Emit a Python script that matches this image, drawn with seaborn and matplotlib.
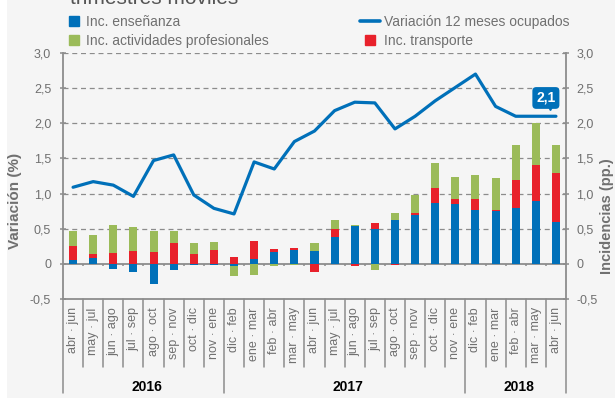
import matplotlib
matplotlib.use('Agg')
import matplotlib.pyplot as plt
import matplotlib.ticker as mticker
from matplotlib.patches import Patch, Rectangle
from matplotlib.lines import Line2D
import numpy as np
import seaborn as sns

# datos (trimestres móviles)
periodos = ['abr · jun', 'may · jul', 'jun · ago', 'jul · sep', 'ago · oct', 'sep · nov', 'oct · dic', 'nov · ene',
            'dic · feb', 'ene · mar', 'feb · abr', 'mar · may', 'abr · jun', 'may · jul', 'jun · ago', 'jul · sep',
            'ago · oct', 'sep · nov', 'oct · dic', 'nov · ene',
            'dic · feb', 'ene · mar', 'feb · abr', 'mar · may', 'abr · jun']
anios = ['2016', '2017', '2018']
n_por_anio = [8, 12, 5]
variacion = [1.09, 1.17, 1.12, 0.96, 1.47, 1.55, 0.98, 0.79, 0.71, 1.45, 1.35, 1.74, 1.89,
             2.18, 2.30, 2.29, 1.92, 2.10, 2.32, 2.51, 2.70, 2.24, 2.10, 2.10, 2.10]
inc_ensenanza = [0.05, 0.085, -0.08, -0.11, -0.28, -0.09, -0.01, -0.02, -0.03, 0.07, 0.17, 0.195, 0.18,
                 0.38, 0.545, 0.50, 0.63, 0.70, 0.87, 0.85, 0.77, 0.75, 0.79, 0.90, 0.59]
inc_transporte = [0.21, 0.06, 0.15, 0.18, 0.17, 0.29, 0.14, 0.20, 0.10, 0.26, 0.04, 0.025, -0.12,
                  0.12, -0.03, 0.08, -0.02, 0.03, 0.21, 0.07, 0.15, 0.01, 0.40, 0.50, 0.70]
inc_actividades = [0.21, 0.27, 0.40, 0.35, 0.30, 0.18, 0.15, 0.11, -0.14, -0.16, -0.03, -0.02, 0.11,
                   0.13, 0.01, -0.09, 0.09, 0.25, 0.35, 0.32, 0.34, 0.46, 0.50, 0.61, 0.40]
ultimo = '2,1'

AZUL = '#0070b9'
ROJO = '#e8212b'
VERDE = '#9bbb59'
GRIS = '#707070'
LINEA = '#8c8c8c'

sns.set_theme(style='white')
plt.rcParams['font.family'] = ['Liberation Sans', 'DejaVu Sans']

fig = plt.figure(figsize=(6.15, 4.0), dpi=100, facecolor='white')
fig.patches.append(Rectangle((7 / 615, 0.005), 1, 1, transform=fig.transFigure,
                             fc='#f5f5f5', ec='none', zorder=-10))
ax = fig.add_axes([63 / 615, 1 - 299 / 400, 503 / 615, 246 / 400])
ax.set_facecolor('none')

x = np.arange(len(periodos))

# barras apiladas, positivos hacia arriba y negativos hacia abajo
base_pos = np.zeros(len(x))
base_neg = np.zeros(len(x))
for vals, color in [(inc_ensenanza, AZUL), (inc_transporte, ROJO), (inc_actividades, VERDE)]:
    vals = np.array(vals)
    bottom = np.where(vals >= 0, base_pos, base_neg)
    ax.bar(x, vals, bottom=bottom, width=0.4, color=color, linewidth=0, zorder=3)
    base_pos = base_pos + np.clip(vals, 0, None)
    base_neg = base_neg + np.clip(vals, None, 0)

sns.lineplot(x=x, y=variacion, color=AZUL, linewidth=2.3, ax=ax, zorder=4, sort=False)

ax.set_xlim(-0.5, len(x) - 0.5)
ax.set_ylim(-0.5, 3.0)

fmt = mticker.FuncFormatter(lambda v, p: '0' if abs(v) < 1e-9 else f'{v:.1f}'.replace('.', ','))
ax.yaxis.set_major_locator(mticker.MultipleLocator(0.5))
ax.yaxis.set_major_formatter(fmt)

for yv in np.arange(0.5, 3.01, 0.5):
    ax.axhline(yv, color=LINEA, lw=0.9, ls=(0, (4, 3)), zorder=1)
ax.axhline(0, color=LINEA, lw=1.3, zorder=2)
ax.vlines(np.arange(0.5, len(x) - 0.5), -0.035, 0, color=LINEA, lw=1.1, zorder=2)

ax.spines['top'].set_visible(False)
for s in ['left', 'right', 'bottom']:
    ax.spines[s].set_color(LINEA)
    ax.spines[s].set_linewidth(1.3)

ax.tick_params(axis='y', left=True, direction='inout', length=5, width=1.1, color=LINEA,
               labelsize=9, labelcolor=GRIS, pad=6)
ax.set_xticks(x)
ax.set_xticklabels(periodos, rotation=90, fontsize=9, color=GRIS)
ax.tick_params(axis='x', length=0, pad=6)

ax2 = ax.twinx()
ax2.set_ylim(ax.get_ylim())
ax2.yaxis.set_major_locator(mticker.MultipleLocator(0.5))
ax2.yaxis.set_major_formatter(fmt)
ax2.tick_params(axis='y', right=True, direction='inout', length=5, width=1.1, color=LINEA,
                labelsize=9, labelcolor=GRIS, pad=5)
for s in ['top', 'left', 'bottom', 'right']:
    ax2.spines[s].set_visible(False)

ax.set_ylabel('Variación (%)', fontsize=11, fontweight='bold', color=GRIS)
ax.yaxis.set_label_coords(-0.082, 0.40)
ax2.set_ylabel('Incidencias (pp.)', fontsize=10.5, fontweight='bold', color=GRIS, rotation=90)
ax2.yaxis.set_label_coords(1.068, 0.335)

# separadores del eje x y años
trans = ax.get_xaxis_transform()
limites = np.arange(-0.5, len(x))
cortes = np.cumsum([0] + n_por_anio) - 0.5
for b in limites:
    y_fin = -0.382 if b in cortes else -0.276
    ax.plot([b, b], [0, y_fin], transform=trans, color=LINEA, lw=1.1, clip_on=False)
for i, anio in enumerate(anios):
    centro = (cortes[i] + cortes[i + 1]) / 2 + 0.15
    ax.text(centro, -0.358, anio, transform=trans, ha='center', va='center',
            fontsize=10, fontweight='bold', color='black')

# etiqueta último dato
ax.annotate(ultimo, xy=(x[-1] - 0.3, variacion[-1] + 0.12), xytext=(x[-1] - 0.5, variacion[-1] + 0.26),
            ha='center', va='center', fontsize=10, fontweight='bold', color='white',
            bbox=dict(boxstyle='round,pad=0.28', fc=AZUL, ec='none'), zorder=6)
ax.plot(x[-1] - 0.3, variacion[-1] + 0.135, marker='v', color=AZUL, ms=4, zorder=6)

fig.text(70 / 615, 1 - 4 / 400, 'trimestres móviles', fontsize=15, color='#555555', va='baseline')

# leyenda
h1 = [Patch(color=AZUL), Patch(color=VERDE)]
l1 = ['Inc. enseñanza', 'Inc. actividades profesionales']
h2 = [Line2D([], [], color=AZUL, lw=2.6),
      Line2D([], [], ls='none', marker='s', ms=7.5, mfc=ROJO, mec=ROJO)]
l2 = ['Variación 12 meses ocupados', 'Inc. transporte']
kw = dict(frameon=False, fontsize=10, labelcolor=GRIS, handlelength=0.75, handleheight=0.75,
          handletextpad=0.45, labelspacing=0.35, borderpad=0, borderaxespad=0)
fig.legend(h1, l1, loc='upper left', bbox_to_anchor=(69 / 615, 1 - 15 / 400), **kw)
kw2 = dict(kw)
kw2['handlelength'] = 1.45
kw2['handletextpad'] = 0.25
fig.legend(h2, l2, loc='upper left', bbox_to_anchor=(360 / 615, 1 - 15 / 400), **kw2)

fig.savefig('out.png', dpi=100, facecolor=fig.get_facecolor())
